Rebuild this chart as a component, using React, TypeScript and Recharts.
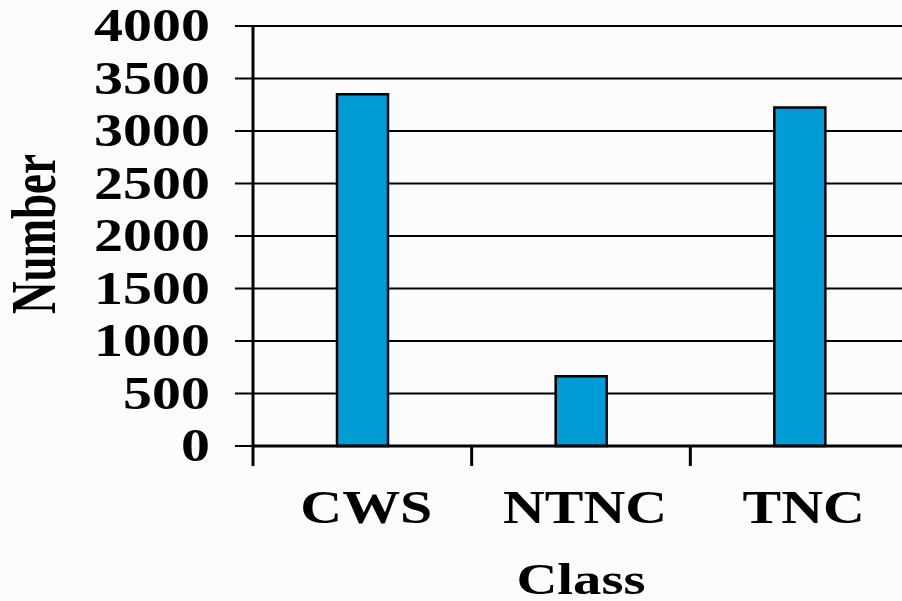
import { BarChart, Bar, XAxis, YAxis, CartesianGrid } from 'recharts';

const categories = ['CWS', 'NTNC', 'TNC'];
const counts = [3350, 665, 3225];
const yTicks = [0, 500, 1000, 1500, 2000, 2500, 3000, 3500, 4000];

const data = categories.map((name, i) => ({ name, count: counts[i] }));

const FONT = '"Liberation Serif", "Times New Roman", serif';

// text in the source is stretched sideways, so scale x
function CountTick({ x, y, payload }: any) {
  return (
    <text
      transform={`translate(${x},${y + 15}) scale(1.26,1)`}
      textAnchor="end"
      fontFamily={FONT}
      fontWeight="bold"
      fontSize={46}
      fill="#000"
    >
      {payload.value}
    </text>
  );
}

// label at the band centre, tick mark at the band's left edge
function ClassTick({ x, y, payload }: any) {
  const half = payload?.offset ?? 109;
  return (
    <g>
      <line x1={x - half} x2={x - half} y1={y} y2={y + 20} stroke="#000" strokeWidth={3} />
      <text
        transform={`translate(${x + 4},${y + 77}) scale(1.26,1)`}
        textAnchor="middle"
        fontFamily={FONT}
        fontWeight="bold"
        fontSize={46}
        fill="#000"
      >
        {payload.value}
      </text>
    </g>
  );
}

export default function App() {
  return (
    <div
      style={{
        position: 'absolute',
        left: 0,
        top: 0,
        width: 902,
        height: 601,
        overflow: 'hidden',
        background: '#fcfcfc',
      }}
    >
      <BarChart width={910} height={601} data={data} margin={{ top: 26, right: 1, left: 0, bottom: 0 }}>
        <CartesianGrid horizontal vertical={false} stroke="#000" strokeWidth={2} strokeOpacity={1} />
        <XAxis
          dataKey="name"
          height={155}
          tickSize={0}
          tickMargin={0}
          tickLine={false}
          axisLine={{ stroke: '#000', strokeWidth: 3 }}
          tick={<ClassTick />}
          interval={0}
          label={{
            content: () => (
              <text
                transform="translate(581,594) scale(1.26,1)"
                textAnchor="middle"
                fontFamily={FONT}
                fontWeight="bold"
                fontSize={45}
                fill="#000"
              >
                Class
              </text>
            ),
          }}
        />
        <YAxis
          width={253}
          domain={[0, 4000]}
          ticks={yTicks}
          interval={0}
          tickSize={18}
          tickMargin={25}
          tickLine={{ stroke: '#000', strokeWidth: 2 }}
          axisLine={{ stroke: '#000', strokeWidth: 3 }}
          tick={<CountTick />}
          label={{
            content: () => (
              <text
                transform="translate(55,234) scale(1.4,1) rotate(-90)"
                textAnchor="middle"
                fontFamily={FONT}
                fontWeight="bold"
                fontSize={45}
                fill="#000"
              >
                Number
              </text>
            ),
          }}
        />
        <Bar
          dataKey="count"
          barSize={51}
          fill="#019CD6"
          stroke="#000"
          strokeWidth={2.5}
          isAnimationActive={false}
        />
      </BarChart>
    </div>
  );
}
